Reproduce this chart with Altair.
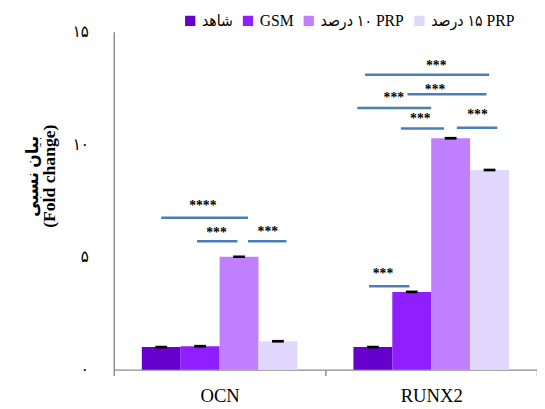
import altair as alt
import pandas as pd

# ---------------- data ----------------
groups = ["OCN", "RUNX2"]
series = ["شاهد", "GSM", "درصد\u200e \u06f1\u06f0 PRP", "درصد\u200e \u06f1\u06f5 PRP"]
ocn_values = [1.0, 1.04, 5.01, 1.26]
runx2_values = [1.0, 3.45, 10.27, 8.86]
ocn_err = [0.06, 0.06, 0.06, 0.06]
runx2_err = [0.06, 0.06, 0.06, 0.06]
colors = ["#6600cc", "#8f1fff", "#bf7fff", "#e1d7ff"]

y_ticks = [0, 5, 10, 15]
y_tick_labels = ["\u06f0", "\u06f5", "\u06f1\u06f0", "\u06f1\u06f5"]
y_title = ["بیان نسبی", "(Fold change)"]

# significance brackets (group index, from/to in series units, level in data units)
br_group = [0, 0, 0, 1, 1, 1, 1, 1, 1]
br_from = [0.0, 0.92, 2.23, -0.2, 0.89, -0.4, 0.72, 2.16, -0.1]
br_to = [2.23, 1.96, 3.22, 2.99, 2.92, 1.5, 1.83, 3.2, 0.94]
br_level = [6.74, 5.70, 5.70, 13.09, 12.22, 11.61, 10.70, 10.74, 3.70]
br_text_pos = [1.07, 1.42, 2.74, 1.63, 1.60, 0.54, 1.22, 2.69, 0.26]
br_text_level = [7.26, 6.04, 6.09, 13.48, 12.43, 12.04, 11.13, 11.30, 4.26]
br_label = ["****", "***", "***", "***", "***", "***", "***", "***", "***"]

# ---------------- tables ----------------
rows = []
for g, vals, errs in [(groups[0], ocn_values, ocn_err), (groups[1], runx2_values, runx2_err)]:
    for s, v, e in zip(series, vals, errs):
        rows.append({"group": g, "series": s, "value": v, "lo": v - e, "hi": v + e})
df = pd.DataFrame(rows)

PO = 0.72  # outer padding of the offset scale (in bar units)


def slot(g, s):
    return g + (PO + s + 0.5) / (len(series) + 2 * PO)


ann = pd.DataFrame({
    "x1": [slot(g, a) for g, a in zip(br_group, br_from)],
    "x2": [slot(g, b) for g, b in zip(br_group, br_to)],
    "level": br_level,
    "tx": [slot(g, t) for g, t in zip(br_group, br_text_pos)],
    "ty": br_text_level,
    "label": br_label,
})

label_expr = " : ".join(
    f"datum.value == {v} ? '{t}'" for v, t in zip(y_ticks, y_tick_labels)
) + " : ''"

FONT = "Liberation Serif, Times New Roman, DejaVu Sans Condensed, DejaVu Sans"
AXIS_GRAY = "#8c8c8c"

x_scale = alt.Scale(paddingInner=0, paddingOuter=0)
off_scale = alt.Scale(paddingInner=0, paddingOuter=PO)
y_scale = alt.Scale(domain=[0, 15], nice=False)
q_scale = alt.Scale(domain=[0, 2], nice=False, zero=False)

y_axis = alt.Axis(
    values=y_ticks, labelExpr=label_expr, ticks=False, grid=False,
    domainColor=AXIS_GRAY, domainWidth=1.5,
    labelFont=FONT, labelFontSize=17, labelColor="#000", labelPadding=26,
    title=y_title, titleFont=FONT, titleFontSize=18, titleFontWeight="bold",
    titleColor="#000", titleLineHeight=17, titleX=-83, titleY=147,
    titleAlign="center", titleBaseline="middle")

bars = alt.Chart(df).mark_bar().encode(
    x=alt.X("group:N", sort=groups, scale=x_scale, axis=alt.Axis(
        title=None, labelAngle=0, tickBand="extent", tickSize=6,
        tickColor=AXIS_GRAY, domainColor=AXIS_GRAY, tickWidth=1.5, domainWidth=1.5,
        labelFont=FONT, labelFontSize=19, labelColor="#000", labelPadding=12, grid=False)),
    xOffset=alt.XOffset("series:N", sort=series, scale=off_scale),
    y=alt.Y("value:Q", scale=y_scale, axis=y_axis),
    color=alt.Color("series:N", sort=series,
                    scale=alt.Scale(domain=series, range=colors),
                    legend=alt.Legend(
                        title=None, orient="none", direction="horizontal",
                        legendX=70, legendY=-19, symbolType="square",
                        symbolSize=110, symbolStrokeWidth=0, symbolOpacity=1,
                        labelFont=FONT, labelFontSize=16, labelColor="#000",
                        labelOffset=4, columnPadding=7, padding=0)),
)

caps = alt.Chart(df).mark_bar(width=12, color="black").encode(
    x=alt.X("group:N", sort=groups, scale=x_scale, axis=None),
    xOffset=alt.XOffset("series:N", sort=series, scale=off_scale),
    y=alt.Y("lo:Q", scale=y_scale, axis=y_axis),
    y2="hi:Q",
)

lines = alt.Chart(ann).mark_rule(color="#4a7ebb", strokeWidth=2.5).encode(
    x=alt.X("x1:Q", scale=q_scale, axis=None),
    x2="x2:Q",
    y=alt.Y("level:Q", scale=y_scale, axis=y_axis),
)

stars = alt.Chart(ann).mark_text(
    font=FONT, fontSize=14, fontWeight="bold", color="#000", baseline="middle"
).encode(
    x=alt.X("tx:Q", scale=q_scale, axis=None),
    y=alt.Y("ty:Q", scale=y_scale, axis=y_axis),
    text="label:N",
)

chart = alt.layer(bars, caps, lines, stars).resolve_scale(x="independent").properties(
    width=432, height=345,
    autosize=alt.AutoSizeParams(type="none"),
    padding={"left": 108, "top": 20, "right": 0, "bottom": 36},
    background="white",
).configure_view(stroke=None)

chart.save("out.html", embed_options={"renderer": "svg", "actions": False})
